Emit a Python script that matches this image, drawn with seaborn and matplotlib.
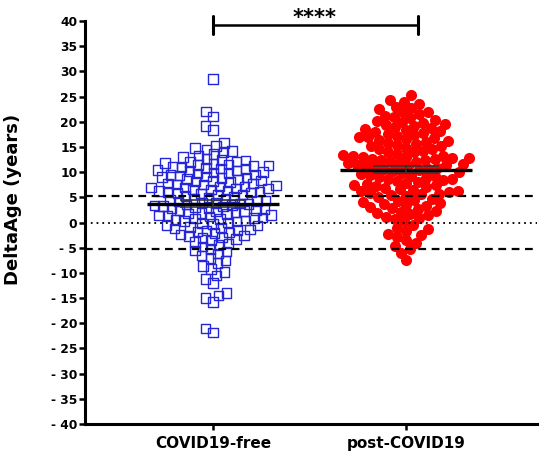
import types
import numpy as np
import matplotlib
matplotlib.use("Agg")
import matplotlib.pyplot as plt
from matplotlib.collections import PathCollection
import seaborn as sns

# --------- data ---------
groups = ["COVID19-free", "post-COVID19"]

free_vals = [
    28.5, 22.0, 21.0, 19.2, 18.4,
    15.8, 15.2, 14.8, 14.5, 14.2, 14.0, 13.6, 13.3, 13.0,
    12.6, 12.3, 12.0, 11.8, 11.5, 11.3, 11.0, 10.8, 10.6, 10.4, 10.2, 10.0,
    11.6, 12.1, 10.9, 11.2,
    9.8, 9.5, 9.3, 9.0, 8.8, 8.5, 8.3, 8.0, 7.8, 7.5, 7.3, 7.0, 6.8, 6.5,
    6.3, 6.0, 5.8, 5.5, 5.3, 5.0,
    9.7, 9.1, 8.6, 8.1, 7.6, 7.1, 6.6, 6.1, 5.6, 5.1, 6.9, 6.4, 7.2, 5.9,
    6.2, 6.7,
    8.2, 9.4, 10.3, 11.4, 8.9, 7.7, 9.9, 10.7, 12.4,
    4.8, 4.5, 4.3, 4.0, 3.8, 3.5, 3.3, 3.0, 2.8, 2.5, 2.3, 2.0, 1.8, 1.5,
    1.3, 1.0, 0.8, 0.5, 0.3, 0.0,
    4.7, 4.2, 3.7, 3.2, 2.7, 2.2, 1.7, 1.2, 0.7, 0.2, 4.4, 3.9, 3.4, 2.9,
    2.4, 1.9, 1.4, 0.9, 0.4, 3.6,
    -0.3, -0.6, -0.9, -1.2, -1.5, -1.8, -2.1, -2.4, -2.7, -3.0, -3.3, -3.6,
    -3.9, -4.2, -4.5, -4.8,
    -0.5, -1.0, -1.6, -2.0, -2.6, -3.1, -0.2, -1.4,
    -5.3, -5.8, -6.2, -6.6, -7.0, -7.5, -8.0, -8.6, -9.2, -9.8, -5.6,
    -10.5, -11.2, -12.0, -14.0, -14.5, -15.0, -15.8,
    -21.0, -21.8,
]

post_vals = [
    25.3, 24.4, 24.0, 23.6,
    23.0, 22.5, 22.0, 21.6, 21.2, 20.8, 20.4, 20.0, 22.8, 21.9, 21.0, 20.2,
    19.6, 19.2, 18.8, 18.4, 18.0, 17.6, 17.2, 16.8, 16.4, 16.0, 15.6, 15.2,
    19.4, 18.6, 17.8, 17.0, 16.2, 15.4, 18.2, 16.6,
    19.8, 18.9, 17.4, 16.9, 15.8, 15.1,
    14.8, 14.5, 14.2, 13.9, 13.6, 13.3, 13.0, 12.7, 12.4, 12.1, 11.8, 11.5,
    11.2, 10.9, 10.6, 10.3, 10.0,
    14.6, 14.0, 13.4, 12.8, 12.2, 11.6, 11.0, 10.4, 13.1, 12.5, 11.9, 11.3,
    10.7, 12.9, 12.6, 13.2, 11.4,
    9.8, 9.5, 9.2, 8.9, 8.6, 8.3, 8.0, 7.7, 7.4, 7.1, 6.8, 6.5, 6.2, 5.9,
    5.6, 5.3, 5.0,
    9.6, 9.0, 8.4, 7.8, 7.2, 6.6, 6.0, 5.4, 8.7, 7.5, 9.3, 6.3, 5.7,
    4.7, 4.3, 3.9, 3.5, 3.1, 2.7, 2.3, 1.9, 1.5, 1.1, 0.7, 0.3,
    4.5, 3.7, 2.9, 2.1, 4.1, 3.3, 1.7, 0.9,
    -0.4, -1.0, -1.6, -2.2, -2.8, -3.4, -4.0, -4.6, -1.3, -2.5,
    -5.3, -6.0, -7.5,
]

cut_lines = [5.2, -5.2]
stars = "****"
# -------------------------------------------------

BLUE = "#2626d9"
RED = "#ff0000"

sns.set_style("ticks")
plt.rcParams["font.family"] = ["DejaVu Sans"]
plt.rcParams["font.weight"] = "bold"
for key in ("text.color", "axes.labelcolor", "xtick.color", "ytick.color",
            "axes.edgecolor"):
    plt.rcParams[key] = "black"

fig = plt.figure(figsize=(5.5, 4.63), dpi=100)
ax = fig.add_axes([0.1545, 0.0842, 0.8218, 0.8704])

# swarm layout is done with smaller markers, then markers are enlarged
n0 = len(ax.collections)
sns.swarmplot(x=[groups[0]] * len(free_vals), y=free_vals, order=groups,
              marker="s", size=5.0, color=BLUE, linewidth=1.0, ax=ax, zorder=2)
blue_colls = ax.collections[n0:]
for c in blue_colls:
    c.set_facecolor("none")
    c.set_edgecolor(BLUE)

n0 = len(ax.collections)
sns.swarmplot(x=[groups[1]] * len(post_vals), y=post_vals, order=groups,
              marker="o", size=6.4, color=RED, linewidth=0, ax=ax, zorder=2)
red_colls = ax.collections[n0:]

ax.set_xlim(-0.663, 1.679)
ax.set_ylim(-40, 40)
fig.canvas.draw()
for colls, sz in [(blue_colls, 6.8), (red_colls, 8.0)]:
    for c in colls:
        c.draw = types.MethodType(PathCollection.draw, c)
        c.set_sizes([sz ** 2])

# reference lines
for v in cut_lines:
    ax.axhline(v, color="black", lw=1.6, ls=(0, (3.5, 2.5)), zorder=4)
ax.axhline(0, color="black", lw=1.3, ls=(0, (1, 2.2)), zorder=4)

# mean +/- SEM
for i, vals in enumerate([free_vals, post_vals]):
    arr = np.asarray(vals)
    m = arr.mean()
    sem = arr.std(ddof=1) / np.sqrt(arr.size)
    ax.plot([i - 0.34, i + 0.34], [m, m], color="black", lw=2.4, zorder=5,
            solid_capstyle="butt")
    for y in (m - sem, m + sem):
        ax.plot([i - 0.17, i + 0.17], [y, y], color="#333333", lw=1.2,
                zorder=5, solid_capstyle="butt")
    ax.plot([i, i], [m - sem, m + sem], color="#333333", lw=1.2, zorder=5)

# significance bracket
ax.plot([0, 1.06], [39.2, 39.2], color="black", lw=1.8, clip_on=False)
for xb in (0, 1.06):
    ax.plot([xb, xb], [37.4, 41.0], color="black", lw=2.2, clip_on=False)
ax.text(0.528, 39.4, stars, ha="center", va="baseline", fontsize=15,
        fontweight="bold", clip_on=False)

# axes styling
ax.set_yticks(range(-40, 41, 5))
ax.set_yticklabels([str(v) if v >= 0 else f"- {abs(v)}" for v in range(-40, 41, 5)],
                   fontsize=8.8, fontweight="bold")
ax.set_xticks([0, 1])
ax.set_xticklabels(groups, fontsize=11, fontweight="bold")
ax.set_xlabel("")
ax.set_ylabel("DeltaAge (years)", fontsize=13, fontweight="bold")
ax.yaxis.set_label_coords(-0.14, 0.558)
for side in ("top", "right"):
    ax.spines[side].set_visible(False)
for side in ("left", "bottom"):
    ax.spines[side].set_linewidth(2.2)
ax.tick_params(axis="y", width=1.8, length=4.5, direction="out", pad=1)
ax.tick_params(axis="x", width=1.8, length=4.5, direction="out", pad=4)

fig.savefig("out.png", dpi=100)
